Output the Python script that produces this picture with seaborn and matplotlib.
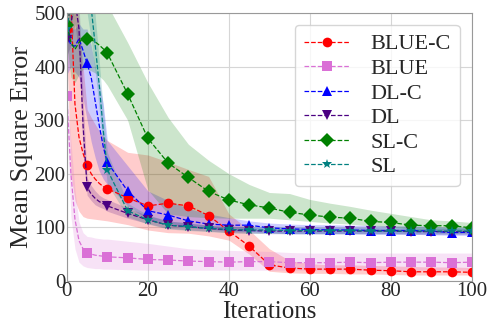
import numpy as np
import pandas as pd
import matplotlib
matplotlib.use("Agg")
import matplotlib.pyplot as plt
import seaborn as sns

iterations = [0, 1, 2, 3, 4, 5, 6, 7, 8, 9, 10, 15, 20, 25, 30, 35, 40, 45, 50,
              55, 60, 65, 70, 75, 80, 85, 90, 95, 100]

blue_c_mean = [470, 520, 330, 268, 238, 216, 200, 190, 182, 176, 172, 155, 140, 145, 140, 122, 93, 65, 30,
               24, 22, 22, 22, 20, 19, 17, 17, 17, 16]
blue_c_low = [430, 200, 150, 130, 120, 117, 116, 115, 114, 113, 112, 105, 95, 90, 89, 84, 76, 50, 18,
              15, 14, 14, 13, 13, 12, 11, 11, 11, 11]
blue_c_high = [510, 600, 560, 480, 400, 320, 305, 292, 280, 270, 262, 240, 235, 222, 208, 195, 125, 95, 60,
               38, 32, 30, 30, 29, 28, 27, 26, 26, 25]

blue_mean = [345, 200, 115, 75, 60, 52, 50, 48, 47, 46, 45, 43, 40, 39, 37, 36, 35, 36, 36,
             34, 34, 34, 35, 34, 35, 35, 35, 34, 35]
blue_low = [300, 120, 60, 35, 28, 25, 24, 23, 23, 22, 22, 21, 20, 20, 20, 20, 20, 20, 20,
            20, 20, 20, 20, 20, 20, 20, 20, 20, 20]
blue_high = [355, 260, 170, 110, 90, 83, 82, 80, 79, 78, 78, 74, 70, 65, 60, 58, 57, 56, 55,
             53, 52, 52, 52, 52, 52, 52, 52, 52, 52]

dlc_mean = [462, 440, 438, 452, 430, 406, 380, 335, 290, 250, 221, 168, 131, 123, 112, 106, 104, 104, 99,
            97, 96, 95, 95, 94, 94, 94, 93, 90, 91]
dlc_low = [385, 400, 390, 380, 340, 300, 260, 230, 205, 190, 180, 140, 115, 108, 100, 97, 93, 92, 90,
           88, 88, 88, 88, 87, 87, 87, 86, 85, 85]
dlc_high = [490, 470, 470, 480, 470, 470, 440, 400, 370, 330, 262, 215, 168, 150, 135, 125, 118, 112, 108,
            106, 105, 105, 104, 104, 103, 103, 102, 100, 100]

dl_mean = [450, 480, 525, 470, 290, 175, 162, 154, 148, 144, 140, 126, 114, 104, 101, 98, 95, 94, 93,
           93, 93, 93, 93, 93, 93, 92, 92, 92, 92]
dl_low = [420, 440, 480, 420, 240, 160, 150, 142, 138, 135, 130, 117, 107, 98, 95, 93, 90, 89, 88,
          88, 88, 88, 88, 88, 88, 87, 87, 87, 87]
dl_high = [480, 520, 570, 520, 340, 192, 178, 168, 160, 155, 152, 136, 122, 112, 108, 104, 101, 100, 99,
           99, 99, 99, 99, 99, 98, 98, 98, 98, 98]

slc_mean = [478, 445, 432, 445, 452, 452, 450, 446, 440, 433, 425, 349, 266, 220, 193, 167, 151, 142, 136,
            128, 123, 119, 117, 111, 109, 104, 103, 103, 99]
slc_low = [440, 380, 370, 385, 395, 395, 392, 388, 382, 375, 365, 300, 170, 125, 120, 118, 117, 117, 117,
           114, 111, 108, 106, 103, 100, 97, 95, 94, 92]
slc_high = [510, 560, 570, 580, 580, 575, 570, 560, 545, 530, 515, 445, 370, 305, 255, 225, 200, 180, 165,
            163, 152, 145, 139, 132, 126, 120, 114, 112, 109]

sl_mean = [470, 520, 560, 580, 575, 560, 510, 440, 365, 280, 207, 131, 114, 104, 101, 98, 96, 95, 95,
           94, 94, 94, 94, 93, 93, 93, 93, 93, 93]
sl_low = [440, 480, 510, 530, 520, 500, 450, 390, 320, 245, 180, 120, 106, 97, 94, 92, 90, 89, 89,
          88, 88, 88, 88, 88, 88, 88, 88, 88, 88]
sl_high = [500, 560, 610, 630, 630, 620, 570, 495, 410, 320, 240, 145, 123, 112, 108, 104, 102, 101, 101,
           101, 100, 100, 100, 100, 100, 100, 100, 100, 100]

labels = ["BLUE-C", "BLUE", "DL-C", "DL", "SL-C", "SL"]
colors = ["red", "orchid", "blue", "indigo", "green", "teal"]
markers = ["o", "s", "^", "v", "D", "*"]
means = [blue_c_mean, blue_mean, dlc_mean, dl_mean, slc_mean, sl_mean]
lows = [blue_c_low, blue_low, dlc_low, dl_low, slc_low, sl_low]
highs = [blue_c_high, blue_high, dlc_high, dl_high, slc_high, sl_high]

sns.set_style("whitegrid", {"grid.color": "0.84", "axes.edgecolor": "0.6"})
plt.rcParams["font.family"] = ["Liberation Serif", "DejaVu Serif"]
plt.rcParams["mathtext.fontset"] = "stix"

fig = plt.figure(figsize=(4.88, 3.24), dpi=100)
ax = fig.add_axes([0.137, 0.133, 0.830, 0.827])

x = np.array(iterations)
mark_idx = [i for i, v in enumerate(iterations) if v % 5 == 0]

for lab, col, mk, m, lo, hi in zip(labels, colors, markers, means, lows, highs):
    ax.fill_between(x, lo, hi, color=col, alpha=0.2, linewidth=0)
    df = pd.DataFrame({"Iterations": x, "MSE": m})
    sns.lineplot(data=df, x="Iterations", y="MSE", ax=ax, color=col, marker=mk,
                 linestyle="--", linewidth=0.9, markersize=7,
                 markeredgewidth=0, markevery=mark_idx, label=lab, sort=False)

ax.set_xlim(0, 100)
ax.set_ylim(0, 500)
ax.set_xticks([0, 20, 40, 60, 80, 100])
ax.set_yticks([0, 100, 200, 300, 400, 500])
ax.tick_params(labelsize=15, pad=1, length=0)
ax.set_xlabel("Iterations", fontsize=18, labelpad=0)
ax.set_ylabel("Mean Square Error", fontsize=19, labelpad=1)

leg = ax.legend(loc="upper right", fontsize=16, frameon=True, framealpha=0.8,
                handlelength=2.1, handletextpad=0.9, labelspacing=0.18,
                borderpad=0.4, borderaxespad=0, bbox_to_anchor=(0.97, 0.955))

fig.savefig("out.png", dpi=100)
